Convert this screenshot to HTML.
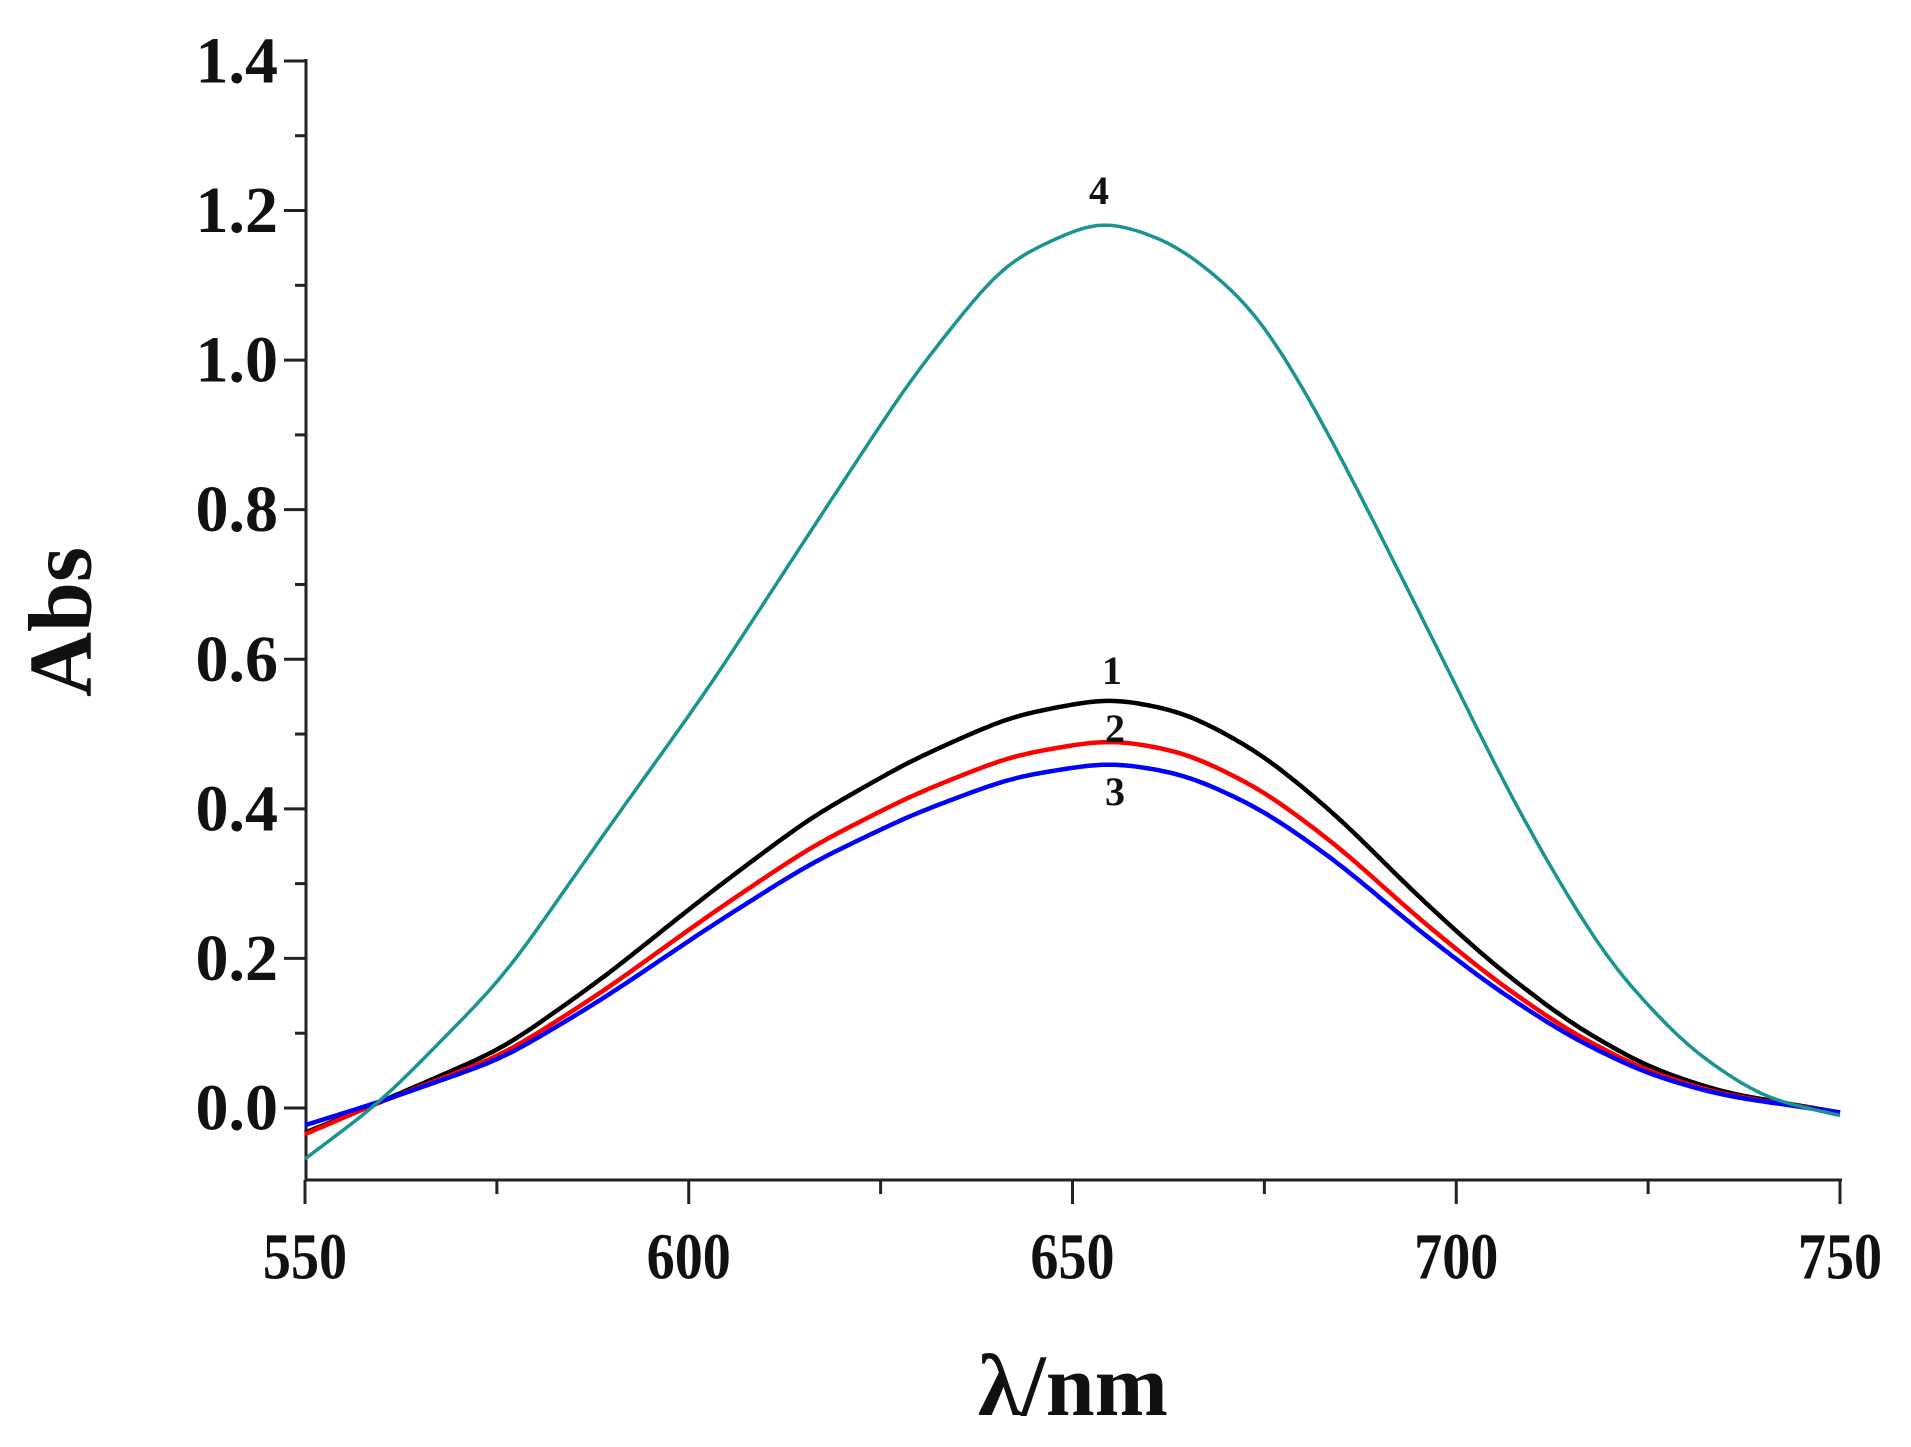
<!DOCTYPE html>
<html><head><meta charset="utf-8"><style>
html,body{margin:0;padding:0;background:#fff;}
svg{display:block;font-family:"Liberation Serif",serif;font-weight:bold;}
</style></head><body>
<svg id="s" width="1911" height="1447" viewBox="0 0 1911 1447" xmlns="http://www.w3.org/2000/svg">
<g id="ax" stroke="#222" stroke-width="3" fill="none">
<line x1="306" y1="59" x2="306" y2="1181"/>
<line x1="305" y1="1180" x2="1842" y2="1180"/>
</g>
<g id="tk" stroke="#222" stroke-width="3"></g>
<g id="lbl" font-size="66" fill="#111"></g>
<g id="curves" fill="none" stroke-width="4.5" stroke-linejoin="round"></g>
<text x="61" y="622" font-size="90" text-anchor="middle" dominant-baseline="central" transform="rotate(-90 61 622)" fill="#111">Abs</text>
<text x="1073" y="1415" font-size="88" text-anchor="middle" fill="#111">λ/nm</text>
<g font-size="40" fill="#111" text-anchor="middle">
<text x="1099" y="204">4</text>
<text x="1112" y="684">1</text>
<text x="1115" y="742">2</text>
<text x="1115" y="805">3</text>
</g>
</svg>
<script>
var NS="http://www.w3.org/2000/svg";
function X(n){return 305+(n-550)*7.675;}
function Y(v){return 1108-v*747.9;}
function el(p,t,a,txt){var e=document.createElementNS(NS,t);for(var k in a)e.setAttribute(k,a[k]);if(txt!==undefined)e.textContent=txt;document.getElementById(p).appendChild(e);}
for(var i=0;i<=14;i++){var v=i/10,y=Y(v);var maj=i%2==0;
 el("tk","line",{x1:306-(maj?22:11),y1:y,x2:306,y2:y});
 if(maj)el("lbl","text",{x:278,y:y,"text-anchor":"end","dominant-baseline":"central"},v.toFixed(1));}
for(var n=550;n<=750;n+=25){var x=X(n);var maj=(n%50==0);
 el("tk","line",{x1:x,y1:1180,x2:x,y2:1180+(maj?24:14)});
 if(maj)el("lbl","text",{x:x,y:1257,"text-anchor":"middle","dominant-baseline":"central",transform:"translate("+x+" 1257) scale(0.85 1) translate("+(-x)+" -1257)"},String(n));}
function lin(pts,n){for(var i=0;i<pts.length-1;i++){if(n<=pts[i+1][0]){var t=(n-pts[i][0])/(pts[i+1][0]-pts[i][0]);return pts[i][1]+t*(pts[i+1][1]-pts[i][1]);}}return pts[pts.length-1][1];}
function smooth(pts,sig){var raw=[];for(var n=550;n<=750;n+=0.5)raw.push(lin(pts,n));
 var out=[],N=raw.length,r=Math.ceil(sig*3*2);
 for(var i=0;i<N;i++){var s=0,w=0;for(var j=-r;j<=r;j++){var k=i+j;var v;
  if(k<0)v=2*raw[0]-raw[-k];else if(k>=N)v=2*raw[N-1]-raw[2*N-2-k];else v=raw[k];
  var ww=Math.exp(-(j*0.5)*(j*0.5)/(2*sig*sig));s+=v*ww;w+=ww;}
  out.push([550+i*0.5,s/w]);}
 return out;}
function path(pts){return pts.map(function(p,i){return (i?"L":"M")+X(p[0]).toFixed(1)+","+Y(p[1]).toFixed(1);}).join(" ");}
var c4=[[550,-0.068],[560,0.009],[575.9,0.175],[589.2,0.37],[602.5,0.56],[615.8,0.77],[629,0.976],[641,1.13],[653.7,1.19],[663.7,1.155],[673.6,1.07],[680.3,0.96],[687,0.83],[693.6,0.695],[700.2,0.56],[706.9,0.42],[713.5,0.30],[720.2,0.19],[730.2,0.08],[740,0.013],[750,-0.01]];
var c1=[[550,-0.033],[560,0.009],[575.9,0.08],[589,0.175],[602.5,0.286],[615.8,0.388],[629,0.465],[642,0.524],[654.8,0.549],[664.8,0.529],[674.8,0.473],[684.8,0.388],[694.7,0.286],[704.7,0.193],[714.6,0.115],[724.6,0.056],[734.5,0.021],[750,-0.006]];
function scaled(k,b0){return c1.map(function(p){var base=-0.006;var v=base+(p[1]-base)*k;if(p[0]<=550)v=b0;if(p[0]==560)v=0.009;return [p[0],v];});}
var c2=scaled(0.9,-0.035),c3=scaled(0.845,-0.023);
el("curves","path",{d:path(smooth(c1,3)),stroke:"#000"});
el("curves","path",{d:path(smooth(c2,3)),stroke:"#f00"});
el("curves","path",{d:path(smooth(c3,3)),stroke:"#0000ff"});
el("curves","path",{d:path(smooth(c4,3)),stroke:"#1a9490","stroke-width":3.5});
</script>
</body></html>
